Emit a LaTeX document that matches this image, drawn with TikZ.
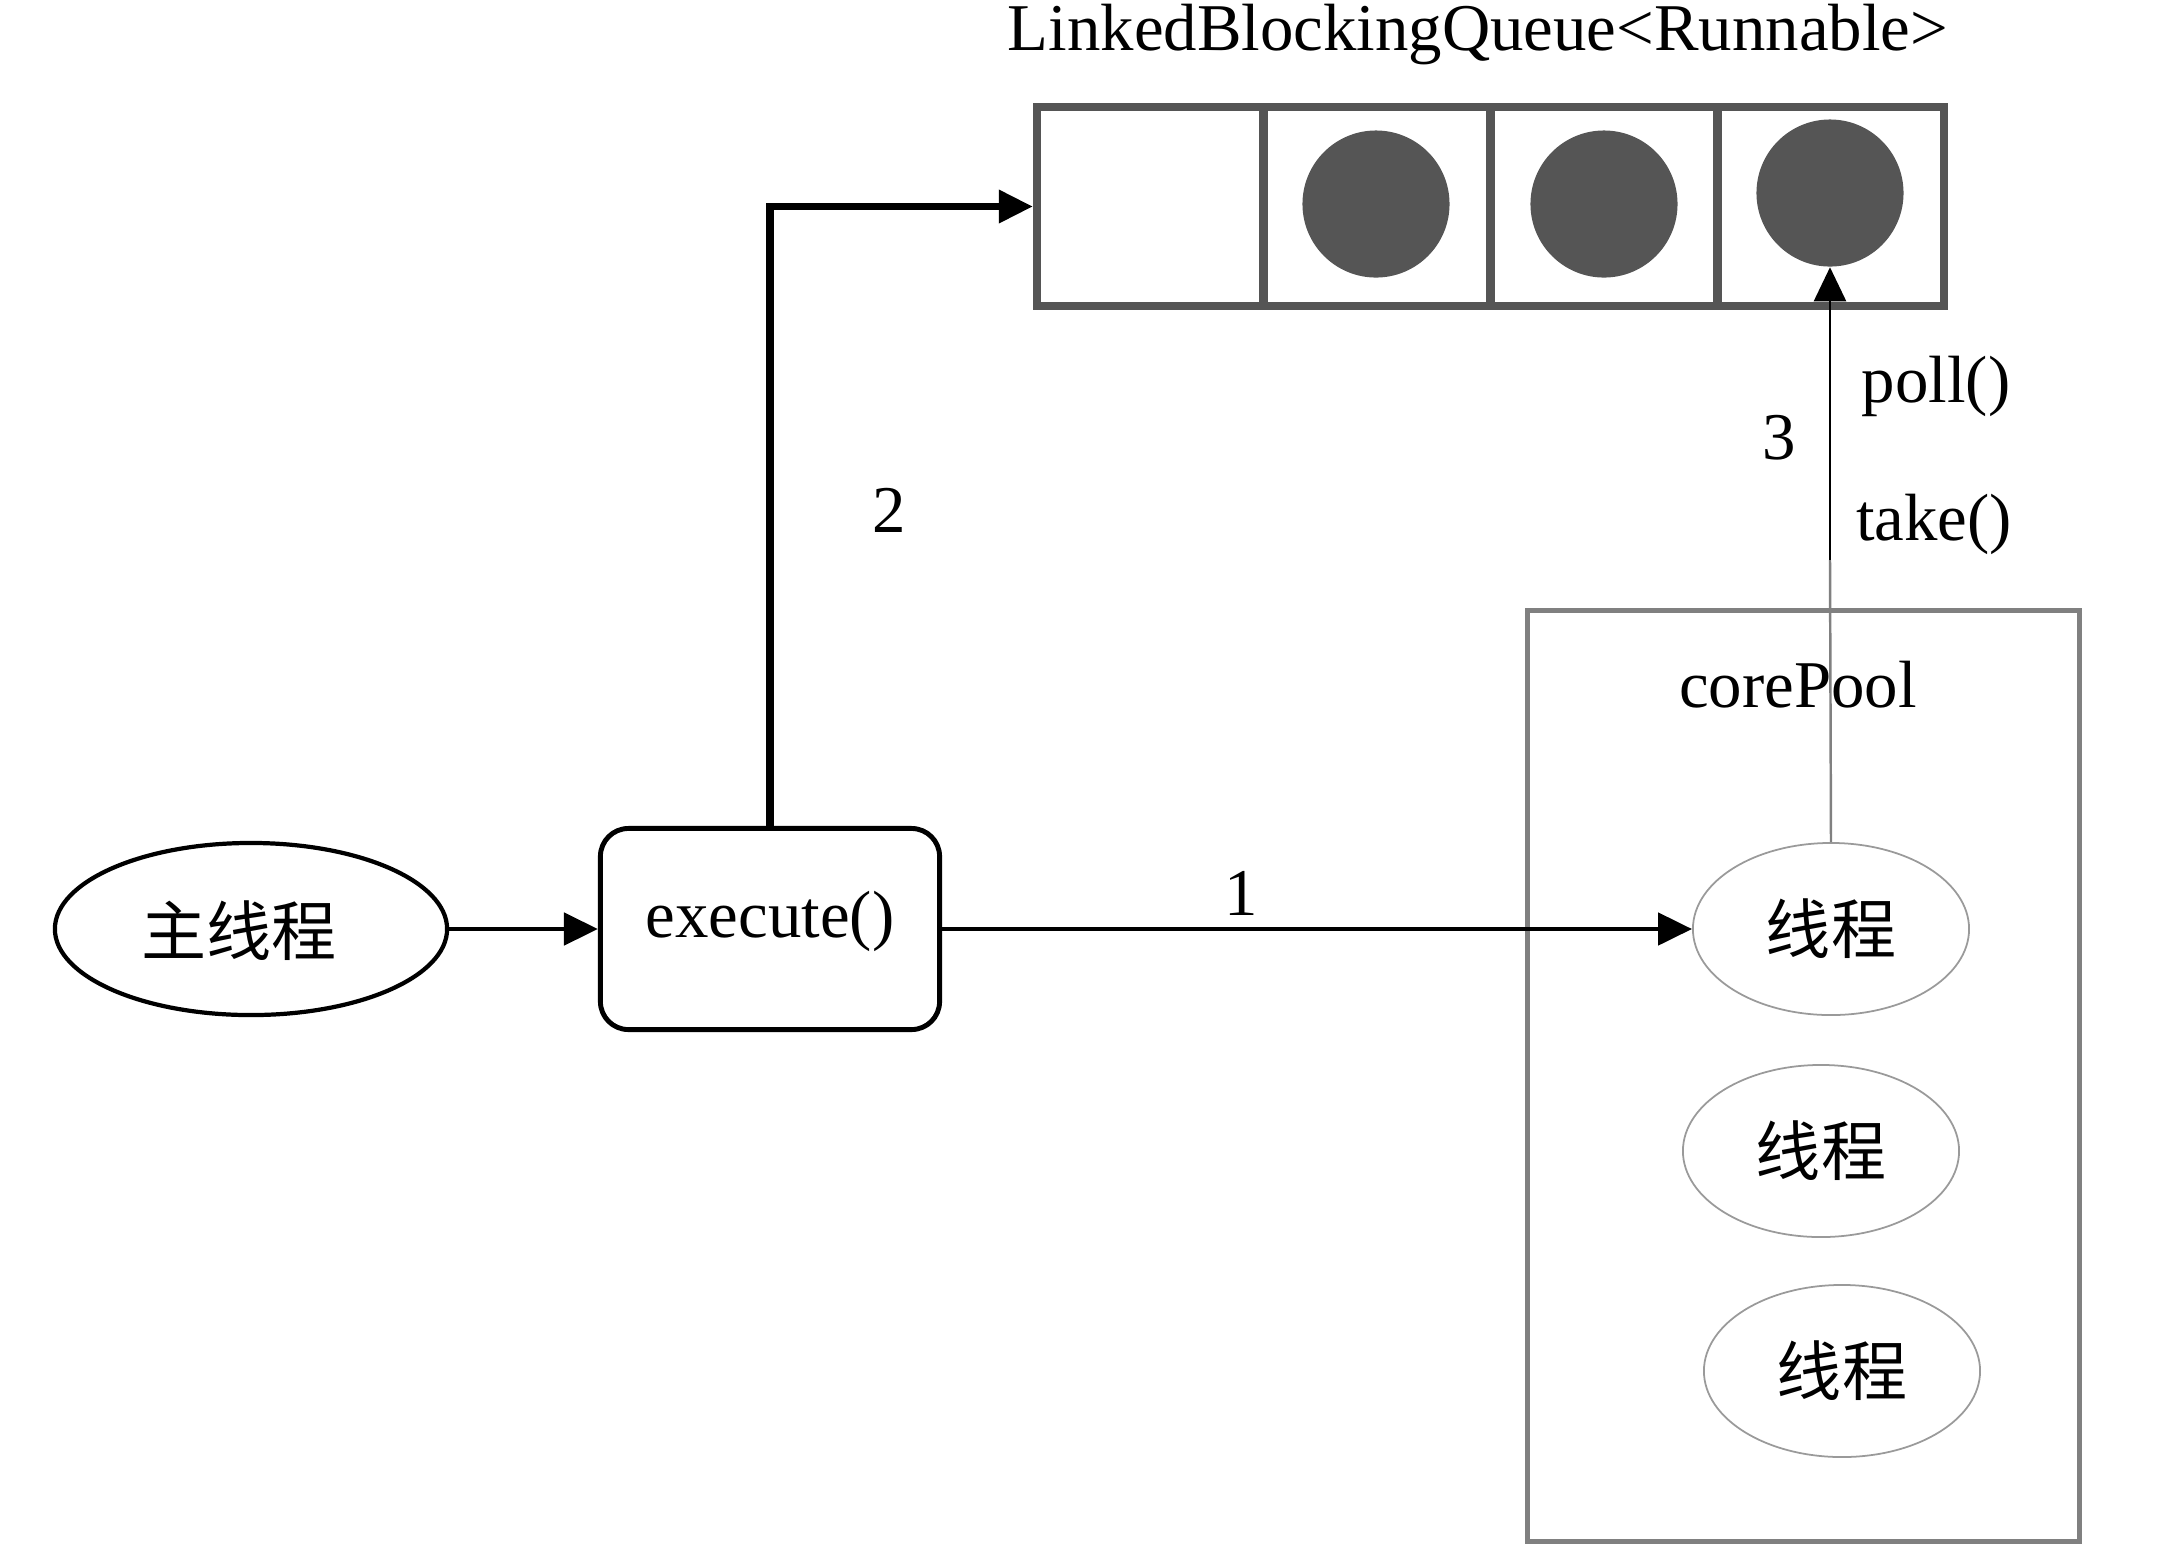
\documentclass[tikz,border=0pt]{standalone}
\usepackage{fontspec}
\setmainfont{Liberation Serif}
\newfontfamily\cjk{Noto Sans CJK SC}
\usetikzlibrary{shapes.geometric,arrows.meta}
\definecolor{qgray}{HTML}{555555}
\definecolor{pgray}{HTML}{808080}
\definecolor{tgray}{HTML}{9A9A9A}
\begin{document}
\begin{tikzpicture}[x=0.01cm,y=-0.01cm,
  txt/.style={inner sep=0, font=\fontsize{19}{22}\selectfont},
  cjktxt/.style={font=\cjk\fontsize{18.5}{22}\selectfont},
  cell/.style={draw=qgray, line width=2.3pt, minimum width=2.27cm, minimum height=1.99cm, inner sep=0},
  job/.style={circle, fill=qgray, minimum size=1.47cm, inner sep=0},
  thread/.style={ellipse, draw=tgray, line width=0.5pt, minimum width=2.76cm, minimum height=1.72cm, inner sep=0, cjktxt},
  tip/.style={-{Triangle[length=0.34cm,width=0.32cm]}}]
\useasboundingbox (0,0) rectangle (2162,1550);

% queue title and cells
\node[txt, anchor=base] (qtitle) at (1478,50) {LinkedBlockingQueue<Runnable>};
\node[cell] (q1) at (1150.4,206.5) {};
\node[cell] (q2) at (1377.1,206.5) {};
\node[cell] (q3) at (1603.9,206.5) {};
\node[cell] (q4) at (1830.6,206.5) {};
\node[job] (c1) at (1376,204) {};
\node[job] (c2) at (1604,204) {};
\node[job] (c3) at (1830,193) {};

% main thread and execute()
\node[ellipse, draw, line width=1.2pt, minimum width=3.92cm, minimum height=1.72cm, inner sep=0] (main) at (251,929) {};
\node[cjktxt, inner sep=0] (mainlabel) at (239,931) {主线程};
\node[draw, rounded corners=0.28cm, line width=1.4pt, minimum width=3.39cm, minimum height=2.01cm, inner sep=0] (ex) at (770,929) {};
\node[txt] (exlabel) at (770,921) {execute()};

% core pool
\node[draw=pgray, line width=1.5pt, minimum width=5.51cm, minimum height=9.30cm, inner sep=0] (pool) at (1803.5,1076) {};
\node[txt] (poollabel) at (1798,685) {corePool};
\node[thread] (t1) at (1831,929) {线程};
\node[thread] (t2) at (1821,1151) {线程};
\node[thread] (t3) at (1842,1371) {线程};

% connectors
\draw[tip, line width=1.4pt] (main) -- (ex);
\draw[tip, line width=1.4pt] (ex.east) -- (t1.west);
\node[txt] (n1) at (1241,893) {1};
\draw[tip, line width=2pt] (ex.north) |- (q1.west);
\node[txt] (n2) at (889,510) {2};
\coordinate (mid) at (1830,560);
\draw[pgray, line width=0.7pt] (t1.north) -- (mid);
\draw[tip, line width=0.7pt] (mid) -- (c3.south);
\node[txt] (n3) at (1779,438) {3};
\node[txt] (poll) at (1936,386) {poll()};
\node[txt] (take) at (1934,524) {take()};
\end{tikzpicture}
\end{document}
